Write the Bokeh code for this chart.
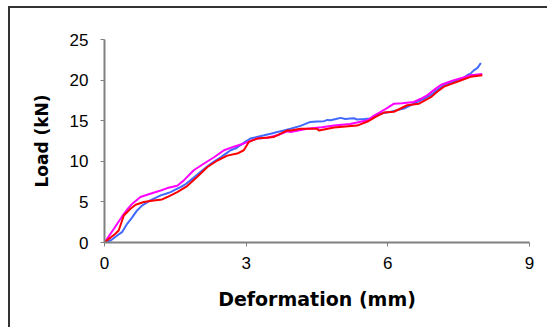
from bokeh.plotting import figure
from bokeh.embed import file_html
from bokeh.resources import INLINE
from bokeh.models import FixedTicker, Range1d

# Deformation (mm) / Load (kN) for three specimens
blue_x = [0, 0.13, 0.27, 0.37, 0.48, 0.59, 0.69, 0.8, 0.97, 1.08, 1.19, 1.3, 1.4, 1.5, 1.61, 1.72, 1.82, 1.93, 2.03, 2.14, 2.25, 2.35, 2.46, 2.57, 2.67, 2.78, 2.88, 2.98, 3.09, 3.23, 3.38, 3.52, 3.66, 3.8, 3.94, 4.15, 4.36, 4.5, 4.65, 4.72, 4.79, 4.9, 5.0, 5.1, 5.21, 5.28, 5.35, 5.5, 5.64, 5.75, 5.85, 6.06, 6.2, 6.34, 6.48, 6.62, 6.76, 6.91, 7.05, 7.19, 7.33, 7.47, 7.58, 7.68, 7.75, 7.82, 7.9, 7.97]
blue_y = [0, 0.25, 0.86, 1.27, 2.3, 3.12, 3.95, 4.57, 5.18, 5.5, 5.8, 6.0, 6.2, 6.5, 6.83, 7.2, 7.65, 8.2, 8.68, 9.2, 9.7, 10.1, 10.5, 10.95, 11.36, 11.6, 12.0, 12.4, 12.8, 13.0, 13.2, 13.4, 13.6, 13.8, 14.0, 14.36, 14.85, 14.9, 14.94, 15.1, 15.06, 15.2, 15.35, 15.2, 15.27, 15.3, 15.15, 15.2, 15.27, 15.6, 15.9, 16.1, 16.3, 16.5, 16.9, 17.3, 17.7, 18.15, 18.8, 19.4, 19.7, 20.0, 20.2, 20.6, 20.8, 21.2, 21.5, 22.1]

magenta_x = [0, 0.2, 0.41, 0.5, 0.59, 0.76, 0.97, 1.19, 1.33, 1.54, 1.68, 1.89, 2.1, 2.32, 2.53, 2.74, 2.95, 3.23, 3.45, 3.66, 3.87, 3.94, 4.29, 4.6, 4.86, 5.2, 5.57, 5.7, 5.85, 6.0, 6.13, 6.3, 6.55, 6.7, 6.84, 6.98, 7.12, 7.26, 7.4, 7.58, 7.75, 8.0]
magenta_y = [0, 1.7, 3.54, 4.2, 4.78, 5.6, 6.0, 6.4, 6.7, 7.0, 7.65, 8.9, 9.7, 10.5, 11.36, 11.8, 12.2, 12.8, 12.9, 13.2, 13.7, 13.6, 14.0, 14.2, 14.4, 14.6, 15.06, 15.6, 16.1, 16.6, 17.1, 17.15, 17.3, 17.7, 18.15, 18.8, 19.4, 19.7, 20.0, 20.3, 20.6, 20.74]

red_x = [0, 0.23, 0.3, 0.41, 0.55, 0.66, 0.83, 1.04, 1.22, 1.33, 1.54, 1.75, 1.96, 2.18, 2.39, 2.6, 2.81, 2.95, 3.06, 3.23, 3.59, 3.87, 3.94, 4.15, 4.5, 4.54, 4.86, 5.1, 5.35, 5.57, 5.75, 5.92, 6.13, 6.27, 6.41, 6.66, 6.91, 7.05, 7.19, 7.33, 7.47, 7.61, 7.75, 8.0]
red_y = [0, 1.07, 1.48, 3.33, 4.16, 4.65, 4.98, 5.18, 5.3, 5.6, 6.2, 6.95, 8.06, 9.3, 10.1, 10.7, 10.95, 11.36, 12.4, 12.8, 13.0, 13.8, 13.8, 14.0, 14.0, 13.8, 14.16, 14.3, 14.4, 14.9, 15.5, 16.0, 16.1, 16.5, 16.9, 17.1, 17.9, 18.6, 19.2, 19.5, 19.8, 20.1, 20.4, 20.6]

x_ticks = [0, 3, 6, 9]
y_ticks = [0, 5, 10, 15, 20, 25]

p = figure(width=539, height=321, output_backend="svg", toolbar_location=None,
           x_range=Range1d(0, 9), y_range=Range1d(0, 25),
           min_border_left=94, min_border_right=20, min_border_top=31, min_border_bottom=87,
           margin=(6, 0, 0, 8),
           styles={"border-left": "2px solid #333333", "border-top": "2px solid #333333"})

p.line(blue_x, blue_y, line_color="#4169FF", line_width=2)
p.line(magenta_x, magenta_y, line_color="#FF00FF", line_width=2)
p.line(red_x, red_y, line_color="#FF0000", line_width=2)

p.grid.visible = False
p.outline_line_color = None
p.background_fill_color = "white"
p.border_fill_color = "white"

for ax in (p.xaxis[0], p.yaxis[0]):
    ax.axis_line_color = "#808080"
    ax.axis_line_width = 2
    ax.major_tick_line_color = "#808080"
    ax.major_tick_line_width = 1
    ax.major_tick_out = 4
    ax.major_tick_in = 0
    ax.minor_tick_line_color = None
    ax.major_label_text_font = "Liberation Sans"
    ax.major_label_text_font_size = "17px"
    ax.major_label_text_color = "black"
    ax.axis_label_text_font = "DejaVu Sans"
    ax.axis_label_text_font_style = "bold"
    ax.axis_label_text_color = "black"

p.xaxis[0].ticker = FixedTicker(ticks=x_ticks)
p.yaxis[0].ticker = FixedTicker(ticks=y_ticks)
p.xaxis[0].axis_label = "Deformation (mm)"
p.yaxis[0].axis_label = "Load (kN)"
p.xaxis[0].axis_label_text_font_size = "19px"
p.yaxis[0].axis_label_text_font_size = "17px"
p.xaxis[0].major_label_standoff = 10
p.yaxis[0].major_label_standoff = 12
p.xaxis[0].axis_label_standoff = 16
p.yaxis[0].axis_label_standoff = 15

open("out.html", "w").write(file_html(p, INLINE))
